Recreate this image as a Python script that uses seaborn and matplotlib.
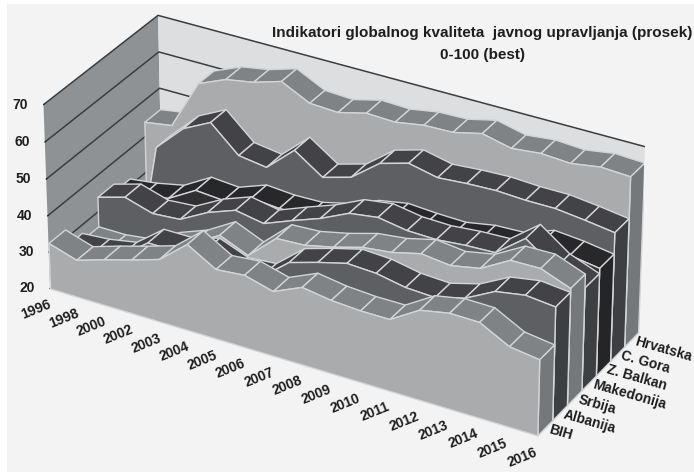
import matplotlib
matplotlib.use("Agg")
import matplotlib.pyplot as plt
import numpy as np
import seaborn as sns
from matplotlib.patches import Rectangle
from mpl_toolkits.mplot3d import proj3d
from mpl_toolkits.mplot3d.art3d import Poly3DCollection

years = ["1996", "1998", "2000", "2002", "2003", "2004", "2005", "2006", "2007",
         "2008", "2009", "2010", "2011", "2012", "2013", "2014", "2015", "2016"]
countries = ["BIH", "Albanija", "Srbija", "Makedonija", "Z. Balkan", "C. Gora", "Hrvatska"]

bih = [32.6, 30.2, 32.6, 34.8, 37.2, 43.5, 39.0, 39.7, 37.6, 41.0, 39.8, 39.3, 39.3, 44.1, 45.6, 45.5, 41.4, 40.3]
albanija = [27.9, 28.5, 29.9, 35.7, 35.7, 37.7, 34.7, 35.3, 41.6, 43.9, 45.9, 45.5, 44.0, 43.6, 45.7, 49.8, 51.1, 50.3]
srbija = [26.0, 26.0, 27.0, 31.1, 34.0, 38.5, 35.2, 42.1, 42.5, 44.2, 46.4, 47.3, 49.2, 48.3, 49.8, 54.2, 54.3, 51.3]
makedonija = [34.2, 36.4, 34.1, 34.7, 38.8, 41.6, 40.2, 43.2, 46.0, 49.6, 50.7, 49.4, 49.2, 49.9, 50.2, 56.2, 50.6, 47.6]
z_balkan = [32.0, 33.0, 34.6, 39.0, 38.4, 41.2, 40.6, 40.8, 42.7, 45.7, 47.1, 46.6, 46.4, 47.8, 48.1, 50.9, 50.2, 49.0]
c_gora = [0.0, 42.9, 50.2, 54.0, 47.1, 46.0, 52.8, 47.6, 49.8, 55.7, 57.9, 56.2, 56.8, 57.1, 56.7, 56.7, 55.8, 54.7]
hrvatska = [44.2, 45.4, 59.0, 62.2, 63.5, 65.8, 62.0, 61.6, 63.5, 63.2, 64.5, 64.7, 66.5, 64.7, 65.5, 65.0, 66.2, 65.8]
series = [bih, albanija, srbija, makedonija, z_balkan, c_gora, hrvatska]

z_ticks = [20, 30, 40, 50, 60, 70]

# front face, top facets, right end cap of each block, front to back
LIGHT = ("#a9abad", "#7f8386", "#74787b")
DARK = ("#5d5f62", "#434347", "#3e3f42")
BLACK = ("#303033", "#28282b", "#252527")
block_colors = [LIGHT, DARK, LIGHT, DARK, BLACK, DARK, LIGHT]
EDGE = "#d2d4d5"
INK = "#1e1e1e"
PAGE = "#f3f3f3"

sns.set_theme(style="white")
plt.rcParams["font.family"] = ["Liberation Sans", "DejaVu Sans"]
plt.rcParams["font.weight"] = "bold"

fig = plt.figure(figsize=(6.94, 4.72), dpi=100, facecolor="white")
fig.add_artist(Rectangle((7 / 694, 0), 1, 1 - 4 / 472, transform=fig.transFigure,
                         facecolor=PAGE, edgecolor="none", zorder=-5))
ax = fig.add_axes([24 / 694, -64.79 / 472, 619 / 694, 619 / 472],
                  projection="3d", computed_zorder=False)
ax.patch.set_alpha(0)
ax.set_xlim(0, 17, view_margin=0)
ax.set_ylim(0, 7, view_margin=0)
ax.set_zlim(20, 70, view_margin=0)
ax.view_init(elev=30.268, azim=-60.487)
ax.set_proj_type("persp", focal_length=1.431)
ax.set_box_aspect((2.615, 1.023, 1.0))

# walls: darker side wall, pale back wall; only the value grid is ruled on them
ax.xaxis.set_pane_color("#8f9295")
ax.yaxis.set_pane_color("#dcdee0")
ax.zaxis.set_pane_color("#8f9295")
for axis in (ax.xaxis, ax.yaxis, ax.zaxis):
    axis.line.set_linewidth(0)
    axis.pane.set_linewidth(0)
ax.grid(True)
ax.xaxis._axinfo["grid"]["linewidth"] = 0
ax.yaxis._axinfo["grid"]["linewidth"] = 0
ax.zaxis._axinfo["grid"].update(color="#3c3d3f", linewidth=1.1, linestyle="-")
for axis in (ax.xaxis, ax.yaxis, ax.zaxis):
    axis._axinfo["tick"].update(inward_factor=0.0, outward_factor=0.1)
    axis._axinfo["tick"]["linewidth"] = {True: 0.8, False: 0.5}
    axis._axinfo["tick"]["color"] = "#a0a0a0"

ax.set_xticks(range(len(years)), labels=[""] * len(years))
ax.set_yticks(np.arange(len(countries)) + 0.5, labels=[""] * len(countries))
ax.set_zticks(z_ticks, labels=[""] * len(z_ticks))
ax.zaxis.set_ticks_position("lower")
ax.yaxis._axinfo["tick"]["color"] = "none"


def axis_label(x, y, z, text, **style):
    """Write a label at a chart position, projected onto the page."""
    px, py, _ = proj3d.proj_transform(x, y, z, ax.get_proj())
    ax.text2D(float(px), float(py), text, transform=ax.transData, fontsize=10, color=INK,
              fontweight="bold", rotation_mode="anchor", va="center", **style)


# axis labels sit just outside the floor and the side wall
floor = z_ticks[0]
for j, year in enumerate(years):
    axis_label(j, 0, floor - 4.3, year, rotation=22, ha="right")
for i, country in enumerate(countries):
    axis_label(17.15, i + 0.5, floor, country, rotation=-16, ha="left")
for value in z_ticks:
    axis_label(-0.55, 0, value - 1.2, str(value), ha="right")


def clip_to_floor(xs, zs, level):
    """Cut a profile where it dips under the floor of the chart."""
    px, pz = [], []
    for k in range(len(xs)):
        if zs[k] >= level:
            px.append(float(xs[k]))
            pz.append(float(zs[k]))
        if k + 1 < len(xs) and (zs[k] - level) * (zs[k + 1] - level) < 0:
            t = (level - zs[k]) / (zs[k + 1] - zs[k])
            px.append(float(xs[k] + t))
            pz.append(float(level))
    return px, pz


def face(verts, color, order):
    poly = Poly3DCollection([verts], facecolors=color, edgecolors=EDGE,
                            linewidths=1.0, zorder=order)
    ax.add_collection3d(poly, autolim=False)


# painter's order: rear block first, each block left to right, front face last
order = 10
for i in reversed(range(len(series))):
    front, top, cap = block_colors[i]
    px, pz = clip_to_floor(np.arange(len(years)), np.array(series[i], float), floor)
    for k in range(len(px) - 1):
        face([(px[k], i, pz[k]), (px[k + 1], i, pz[k + 1]),
              (px[k + 1], i + 1, pz[k + 1]), (px[k], i + 1, pz[k])], top, order)
        order += 1
    face([(px[-1], i, floor), (px[-1], i + 1, floor),
          (px[-1], i + 1, pz[-1]), (px[-1], i, pz[-1])], cap, order)
    order += 1
    outline = [(px[0], i, floor)] + [(a, i, b) for a, b in zip(px, pz)] + [(px[-1], i, floor)]
    face(outline, front, order)
    order += 1

fig.text(482.5 / 694, 1 - 33 / 472, "Indikatori globalnog kvaliteta  javnog upravljanja (prosek)",
         ha="center", va="center", fontsize=11, fontweight="bold", color=INK)
fig.text(483 / 694, 1 - 55 / 472, "0-100 (best)",
         ha="center", va="center", fontsize=11, fontweight="bold", color=INK)

fig.savefig("out.png", dpi=100, facecolor=fig.get_facecolor())
